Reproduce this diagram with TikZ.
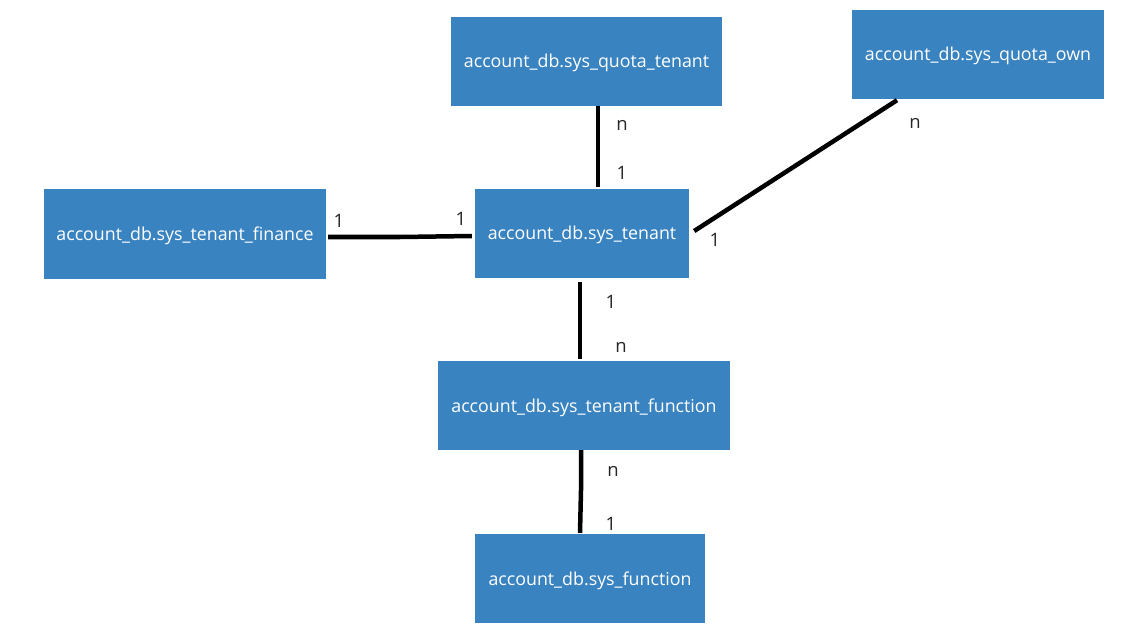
\documentclass[tikz,border=0pt]{standalone}
\usepackage{fontspec}
\setmainfont{Open Sans}
\usepackage{xcolor}
\definecolor{tablebox}{HTML}{3A83C1}

\begin{document}
\begin{tikzpicture}[x=1pt,y=-1pt,
    table/.style={fill=tablebox, text=white, inner sep=0pt, text height=16pt, text depth=3pt, font=\fontsize{17.8}{20}\selectfont},
    rel/.style={line width=4.5pt, black},
    card/.style={font=\fontsize{18.5}{20}\selectfont, text=black!85, inner sep=0pt}]

    \useasboundingbox (0,0) rectangle (1123,636);

    % Tables
    \node[table, minimum width=271pt, minimum height=89pt] (quotatenant) at (586.5,61.5) {account\_db.sys\_quota\_tenant};
    \node[table, minimum width=252pt, minimum height=89pt] (quotaown) at (978,54.5) {account\_db.sys\_quota\_own};
    \node[table, minimum width=282pt, minimum height=90pt] (finance) at (185,234) {account\_db.sys\_tenant\_finance};
    \node[table, minimum width=214pt, minimum height=89pt] (tenant) at (582,233.5) {account\_db.sys\_tenant};
    \node[table, minimum width=292pt, minimum height=89pt] (tenantfunc) at (584,405.5) {account\_db.sys\_tenant\_function};
    \node[table, minimum width=230pt, minimum height=89pt] (function) at (590,578.5) {account\_db.sys\_function};

    % Relations
    \draw[rel] ([xshift=11.5pt]quotatenant.south) -- ([xshift=16pt,yshift=2pt]tenant.north);
    \draw[rel] ([xshift=-81pt,yshift=-1pt]quotaown.south) -- ([xshift=5pt,yshift=2.5pt]tenant.east);
    \draw[rel] ([xshift=2pt,yshift=-3pt]finance.east) -- ++(72,0) -- ([xshift=-3pt,yshift=-2.5pt]tenant.west);
    \draw[rel] ([xshift=-2pt,yshift=-4pt]tenant.south) -- ([xshift=-4pt,yshift=2pt]tenantfunc.north);
    \draw[rel] ([xshift=-3pt]tenantfunc.south) -- ++(0,40) -- ([xshift=-10pt,yshift=1pt]function.north);

    % Cardinalities
    \node[card] (qtn) at (622,125) {n};
    \node[card] (qt1) at (622,173) {1};
    \node[card] (qon) at (915,123) {n};
    \node[card] (qo1) at (715,240) {1};
    \node[card] (fi1) at (339,221) {1};
    \node[card] (ft1) at (461,219) {1};
    \node[card] (tf1) at (611,302) {1};
    \node[card] (tfn) at (621,347) {n};
    \node[card] (fnn) at (613,471) {n};
    \node[card] (fn1) at (611,524) {1};

\end{tikzpicture}
\end{document}
